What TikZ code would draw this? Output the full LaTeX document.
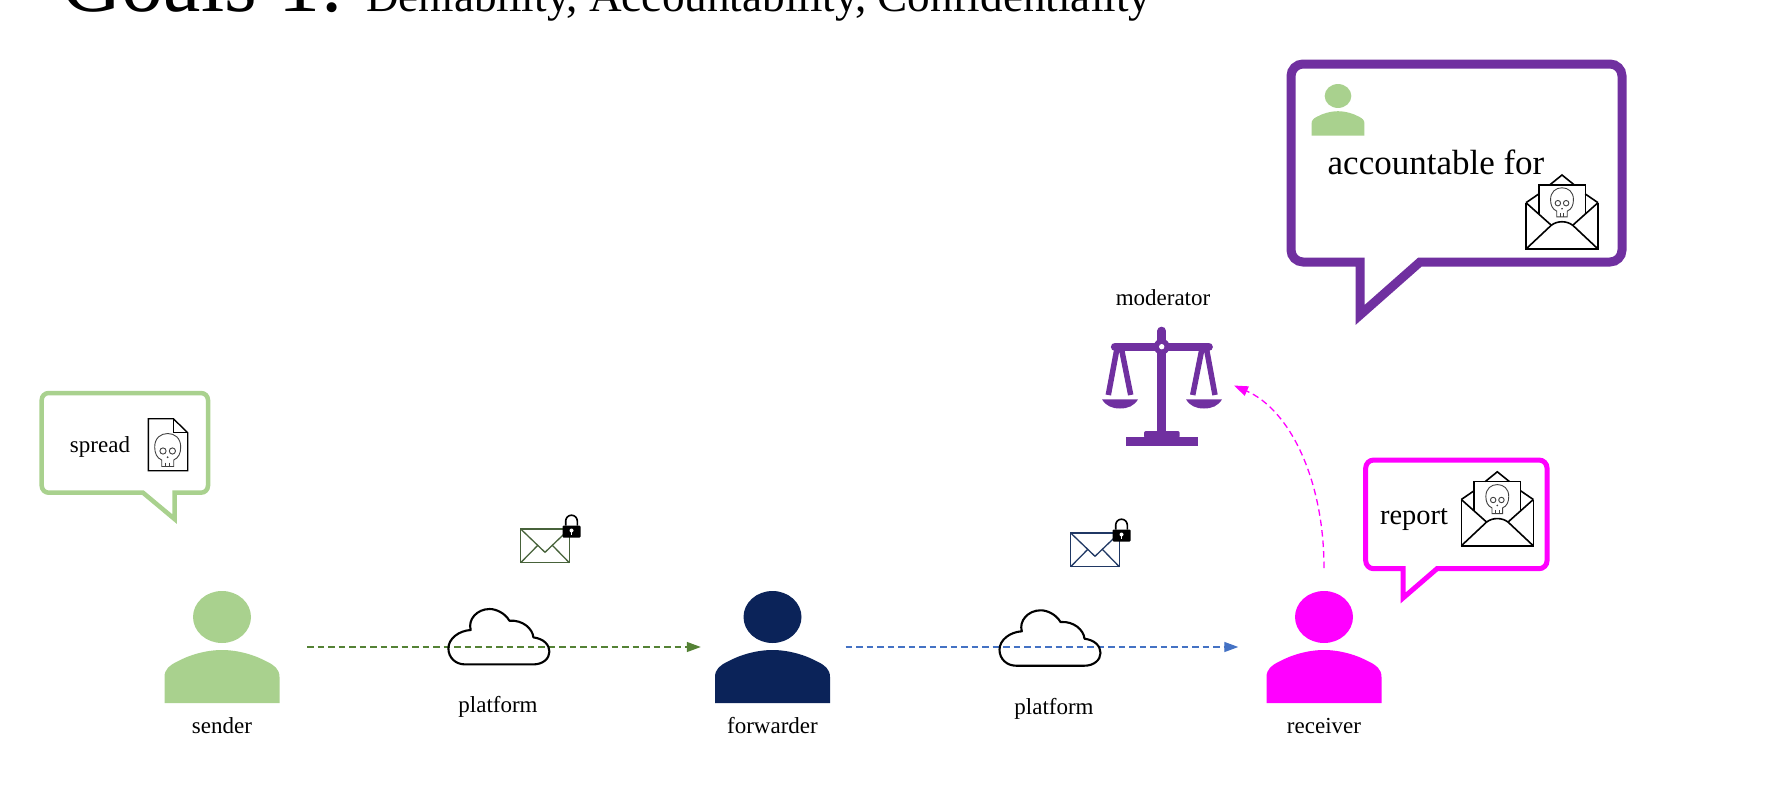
\documentclass[tikz,border=0pt]{standalone}
\usepackage{fontspec}
\setmainfont{Liberation Serif}
\usetikzlibrary{arrows.meta}
\definecolor{pgreen}{HTML}{A9D18E}
\definecolor{pnavy}{HTML}{0B2359}
\definecolor{pmag}{HTML}{FF00FF}
\definecolor{ppurple}{HTML}{7030A0}
\definecolor{lgreen}{HTML}{548235}
\definecolor{lblue}{HTML}{4472C4}
\definecolor{mgreen}{HTML}{47623A}
\definecolor{mblue}{HTML}{203864}
\definecolor{skullgray}{HTML}{404040}
\tikzset{
  lbl/.style={anchor=base,inner sep=0pt,font=\fontsize{23}{27}\selectfont},
  iconbox/.style={inner sep=0pt,minimum width=#1,minimum height=112pt},
  flowline/.style={dash pattern=on 6.5pt off 4pt,line width=1.3pt},
  flowtip/.style={-{Triangle[length=14pt,width=10pt]}},
  bubble/.style={fill=white,line join=miter,miter limit=10},
  iconline/.style={line width=1.6pt,black,line join=miter},
  cloudline/.style={line width=2.1pt,black,line join=round}
}
% xl, yt, xr, yb, r, tail right x, tail left x, tip x, tip y (draw options come first)
\newcommand{\bubbleshape}[9]{%
  (#6,#4) -- ({#3-#5},#4) arc [start angle=90,end angle=0,radius=#5]
  -- (#3,{#2+#5}) arc [start angle=0,end angle=-90,radius=#5]
  -- ({#1+#5},#2) arc [start angle=-90,end angle=-180,radius=#5]
  -- (#1,{#4-#5}) arc [start angle=180,end angle=90,radius=#5]
  -- (#7,#4) -- (#8,#9) -- cycle}
\newcommand{\personicon}[4]{% x, y (head centre), scale, colour
  \begin{scope}[shift={(#1,#2)},scale=#3]
    \fill[#4] (0,0) ellipse [x radius=29,y radius=26];
    \fill[#4] (-57.5,86) -- (-57.5,60) .. controls (-57.5,52) and (-52,48) .. (-45,44.7)
      .. controls (-33,38) and (-16,33) .. (0,33)
      .. controls (16,33) and (33,38) .. (45,44.7)
      .. controls (52,48) and (57.5,52) .. (57.5,60) -- (57.5,86) -- cycle;
  \end{scope}}
\newcommand{\skullicon}[3]{% x, y, scale
  \begin{scope}[shift={(#1,#2)},scale=#3,draw=skullgray,line width=0.9pt]
    \draw (-6,16.5) -- (-6,10) .. controls (-11,8) and (-13,3) .. (-13,-3)
      .. controls (-13,-12) and (-7,-16.5) .. (0,-16.5)
      .. controls (7,-16.5) and (13,-12) .. (13,-3)
      .. controls (13,3) and (11,8) .. (6,10) -- (6,16.5) -- cycle;
    \draw (-4.7,1) circle [radius=3.1];
    \draw (4.7,1) circle [radius=3.1];
    \fill[skullgray] (0,7.2) circle [radius=1];
    \draw (-2,12.5) -- (-2,16.5) (2,12.5) -- (2,16.5);
  \end{scope}}
\newcommand{\openmail}[2]{% x, y centre
  \begin{scope}[shift={(#1,#2)}]
    \draw[iconline] (-12,-27.3) -- (0,-37) -- (12,-27.3);
    \draw[iconline] (-36,-9.3) -- (-23.3,-18) (36,-9.3) -- (23.3,-18);
    \draw[iconline] (-23.3,2) -- (-23.3,-27.3) -- (23.3,-27.3) -- (23.3,2);
    \draw[iconline] (-36,-9.3) -- (-36,37) -- (36,37) -- (36,-9.3);
    \draw[iconline] (-36,-9.3) -- (-11,13) (36,-9.3) -- (11,13);
    \draw[iconline] (-36,37) -- (-11,13.5) .. controls (-5,8.5) and (5,8.5) .. (11,13.5) -- (36,37);
    \skullicon{0}{-9.7}{0.88}
  \end{scope}}
\newcommand{\lockedmail}[3]{% x, y top-left of the envelope, colour
  \begin{scope}[shift={(#1,#2)}]
    \draw[#3,line width=1.3pt] (0,0) rectangle (48.6,33.7);
    \draw[#3,line width=1.3pt] (0,0) -- (24.3,23.3) -- (48.6,0);
    \draw[#3,line width=1.3pt] (0,33.7) -- (16.7,16.7) (48.6,33.7) -- (32,16.7);
    \draw[black,line width=1.6pt] (45,-3.5) -- (45,-8) arc [start angle=180,end angle=360,radius=5.8] -- (56.6,-3.5);
    \fill[black,rounded corners=1pt] (41.8,-3.5) rectangle (59.8,8.5);
    \fill[white] (50.8,1.5) circle [radius=2];
    \fill[white] (50.1,1.5) rectangle (51.5,5.5);
  \end{scope}}
\newcommand{\cloudicon}[2]{%
  \begin{scope}[shift={(#1,#2)}]
    \draw[cloudline] (-33.7,27.7) -- (34.7,27.7) .. controls (44,27.7) and (50.7,22) .. (50.7,15)
      .. controls (50.7,8) and (45,2) .. (34.7,0.7)
      .. controls (34,-8) and (24,-17) .. (10.7,-16)
      .. controls (6,-24) and (-3,-27.7) .. (-9,-27.7)
      .. controls (-22,-27.7) and (-31,-17) .. (-28,-6.7)
      .. controls (-40,-6) and (-50.3,2) .. (-50.3,11.7)
      .. controls (-50.3,21) and (-43,27.7) .. (-33.7,27.7) -- cycle;
  \end{scope}}
\begin{document}
\begin{tikzpicture}[x=1pt,y=-1pt]
\useasboundingbox (0,0) rectangle (1765,790);
% title
\node[anchor=base west,inner sep=0pt,font=\fontsize{84}{92}\selectfont] (titleA) at (61,11) {Goals 1:};
\node[anchor=base west,inner sep=0pt,font=\fontsize{45.2}{54}\selectfont] (titleB) at (366,11) {Deniability, Accountability, Confidentiality};

% people
\node[iconbox=115pt] (senderIcon) at (222,647) {};
\node[iconbox=115pt] (forwarderIcon) at (772.5,647) {};
\node[iconbox=115pt] (receiverIcon) at (1324,647) {};
\personicon{222}{617}{1}{pgreen}
\personicon{772.5}{617}{1}{pnavy}
\personicon{1324}{617}{1}{pmag}
\node[lbl] (senderLabel) at (222,733) {sender};
\node[lbl] (forwarderLabel) at (772.5,733) {forwarder};
\node[lbl] (receiverLabel) at (1324,733) {receiver};

% platforms
\node[lbl] (platformA) at (498,712) {platform};
\node[lbl] (platformB) at (1054,714) {platform};

% connectors
\draw[flowline,lgreen,flowtip,shorten <=27.5pt,shorten >=14pt] (senderIcon) -- (forwarderIcon);
\draw[flowline,lblue,flowtip,shorten <=15.5pt,shorten >=28pt] (forwarderIcon) -- (receiverIcon);
\cloudicon{498.7}{636.7}
\cloudicon{1049.8}{638}
\lockedmail{520.7}{529}{mgreen}
\lockedmail{1070.7}{533}{mblue}

% moderator scales
\node[inner sep=0pt,minimum width=120pt,minimum height=120pt] (scalesIcon) at (1162,386) {};
\begin{scope}[ppurple]
  \draw[line width=8.7pt,line cap=round] (1161.7,331) -- (1161.7,432);
  \draw[line width=8.3pt,line cap=round] (1115,346.7) -- (1208.7,346.7);
  \fill (1161.7,346.7) circle [radius=8];
  \fill[white] (1161.7,346.7) circle [radius=2.7];
  \draw[line width=5.5pt] (1116.7,350) -- (1108.3,395) (1121.7,350) -- (1130.7,395);
  \draw[line width=5.5pt] (1206.7,350) -- (1215,395) (1201.7,350) -- (1192.7,395);
  \fill (1102,399.3) .. controls (1106,406) and (1112,408.5) .. (1120,408.5) .. controls (1128,408.5) and (1134,406) .. (1138,399.3) -- cycle;
  \fill (1186,399.3) .. controls (1190,406) and (1196,408.5) .. (1204,408.5) .. controls (1212,408.5) and (1218,406) .. (1222,399.3) -- cycle;
  \fill (1126,436.7) rectangle (1198,445.7);
  \fill[rounded corners=2pt] (1144,438) -- (1144,431) -- (1179.7,431) -- (1179.7,438) -- cycle;
\end{scope}
\node[lbl] (moderatorLabel) at (1163,305) {moderator};
\coordinate (reportOut) at (1324,568);
\coordinate (moderatorIn) at (1234,385.5);
\draw[flowline,pmag,flowtip] (reportOut) .. controls (1324,480) and (1290,410) .. (moderatorIn);

% spread bubble
\draw[pgreen,line width=4.5pt,bubble] \bubbleshape{41.7}{393}{208}{492.7}{7}{174.5}{143}{174.5}{519};
\node[lbl] (spreadLabel) at (100,452.7) {spread};
\draw[line width=1.4pt,black,line join=miter] (173.3,418.7) -- (148.3,418.7) -- (148.3,470.7) -- (187.7,470.7) -- (187.7,432.7) -- cycle;
\draw[line width=1.4pt,black,line join=miter] (173.3,418.7) -- (173.3,432.7) -- (187.7,432.7);
\skullicon{167.7}{450}{1}

% report bubble
\draw[pmag,line width=5pt,bubble] \bubbleshape{1365.7}{460}{1547}{568.7}{8}{1437}{1403}{1403}{598};
\node[lbl,font=\fontsize{28.4}{32}\selectfont] (reportLabel) at (1414,524) {report};
\openmail{1497.3}{508.8}

% accountable bubble
\draw[ppurple,line width=9pt,bubble] \bubbleshape{1291}{64}{1622}{262}{12}{1420}{1360}{1360}{315};
\personicon{1338}{96}{0.46}{pgreen}
\node[lbl,font=\fontsize{35}{40}\selectfont] (accountableLabel) at (1436,174) {accountable for};
\openmail{1562}{212}
\end{tikzpicture}
\end{document}
